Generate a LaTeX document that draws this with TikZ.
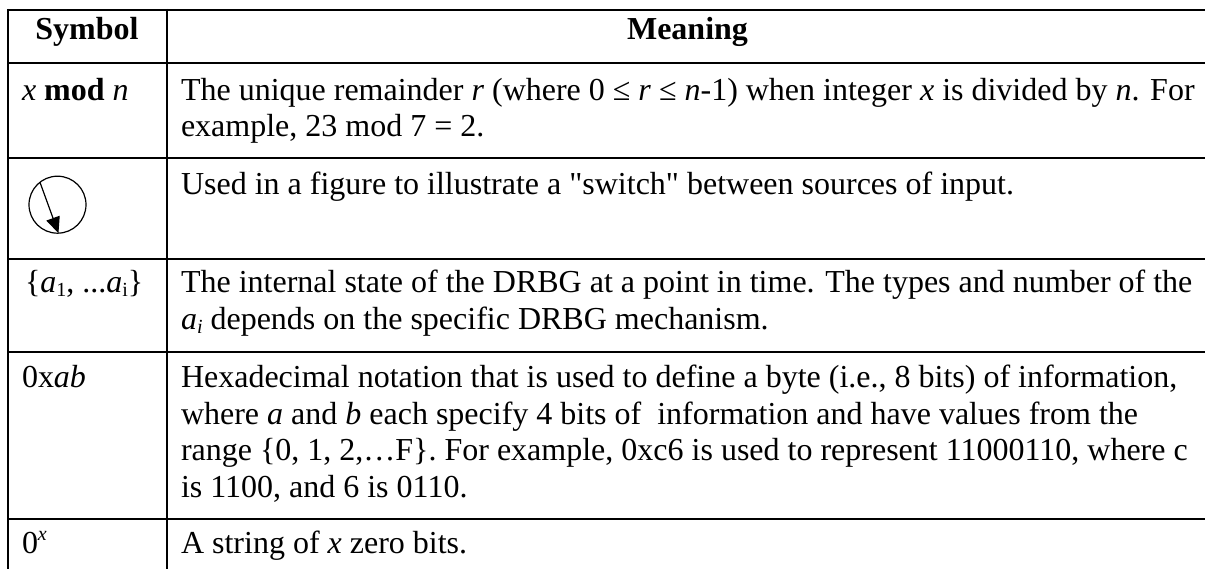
\documentclass[tikz,border=0pt]{standalone}
\usepackage{fontspec}
\setmainfont[Ligatures=TeXOff]{Liberation Serif}
\usetikzlibrary{arrows.meta}
\tikzset{
  x=1pt,y=-1pt,
  txt/.style={anchor=base west,inner sep=0pt,outer sep=0pt,font=\fontsize{32}{36}\selectfont},
  head/.style={anchor=base,inner sep=0pt,outer sep=0pt,font=\fontsize{32}{36}\selectfont\bfseries},
  rule/.style={line width=2pt,line cap=butt},
  swcircle/.style={circle,draw,line width=1.2pt,minimum size=57pt,inner sep=0pt,outer sep=0pt},
  swarrow/.style={line width=1.2pt,-{Triangle[length=16pt,width=14pt]}}
}
\newcommand{\iv}[1]{\textit{#1}}
\newcommand{\sbs}[1]{\raisebox{-4pt}{\fontsize{20}{20}\selectfont #1}}
\newcommand{\sps}[1]{\raisebox{13pt}{\fontsize{20}{20}\selectfont #1}}
\begin{document}
\begin{tikzpicture}
\useasboundingbox (0,0) rectangle (1205,569);
\fill[white] (0,0) rectangle (1205,569);
% rules
\foreach \yy in {10,63.5,158.5,259,352,518.5}
  \draw[rule] (7,\yy) -- (1205,\yy);
\draw[rule] (8,9) -- (8,569);
\draw[rule] (166.5,9) -- (166.5,569);
% header
\node[head] (h1) at (87,40) {Symbol};
\node[head] (h2) at (687.5,40) {Meaning};
% row 1
\node[txt] (s1) at (22,101) {\iv{x} \textbf{mod} \iv{n}};
\node[txt] (m1a) at (181,101) {The unique remainder \iv{r} (where 0 ≤ \iv{r} ≤ \iv{n}-1) when integer \iv{x} is divided by \iv{n}. For};
\node[txt] (m1b) at (181,137) {example, 23 mod 7 = 2.};
% row 2
\node[swcircle] (sw) at (57.5,204.7) {};
\draw[swarrow] (sw.128) -- (sw.272);
\node[txt] (m2a) at (181,195) {Used in a figure to illustrate a "switch" between sources of input.};
% row 3
\node[txt] (s3) at (25,293) {\{\iv{a}\sbs{1}, ...\iv{a}\sbs{i}\}};
\node[txt] (m3a) at (181,293) {The internal state of the DRBG at a point in time. The types and number of the};
\node[txt] (m3b) at (181,330) {\iv{a}\sbs{\iv{i}} depends on the specific DRBG mechanism.};
% row 4
\node[txt] (s4) at (22,388) {0x\iv{ab}};
\node[txt] (m4a) at (181,388) {Hexadecimal notation that is used to define a byte (i.e., 8 bits) of information,};
\node[txt] (m4b) at (181,424) {where \iv{a} and \iv{b} each specify 4 bits of~ information and have values from the};
\node[txt] (m4c) at (181,460) {range \{0, 1, 2,…F\}. For example, 0xc6 is used to represent 11000110, where c};
\node[txt] (m4d) at (181,497) {is 1100, and 6 is 0110.};
% row 5
\node[txt] (s5) at (22,553) {0\sps{\iv{x}}};
\node[txt] (m5a) at (181,553) {A string of \iv{x} zero bits.};
\end{tikzpicture}
\end{document}
